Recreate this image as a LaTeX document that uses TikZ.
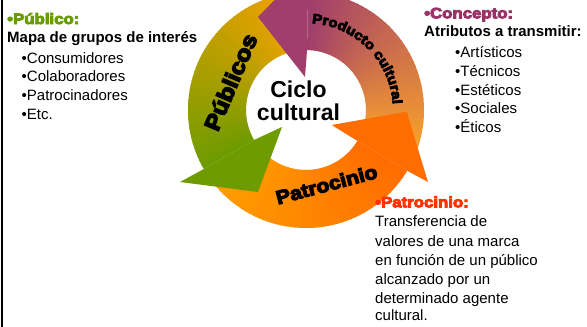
\documentclass[tikz,border=0pt]{standalone}
\usepackage{fontspec}
\setmainfont{Liberation Sans}
\newfontfamily\heavyfam[FakeBold=6,FakeStretch=1.12]{Liberation Sans Bold}
\usetikzlibrary{decorations.text}
\definecolor{grTail}{RGB}{242,162,0}
\definecolor{grHead}{RGB}{110,155,0}
\definecolor{puTail}{RGB}{250,162,42}
\definecolor{puHead}{RGB}{160,62,108}
\definecolor{orTail}{RGB}{255,158,0}
\definecolor{orHead}{RGB}{255,108,0}
\definecolor{txGreen}{RGB}{104,156,0}
\definecolor{txPurple}{RGB}{153,51,102}
\definecolor{txRed}{RGB}{255,51,0}
\tikzset{
  plainline/.style={anchor=base west, inner sep=0pt, font=\fontsize{15}{18}\selectfont},
  boldline/.style={anchor=base west, inner sep=0pt, font=\bfseries\fontsize{15}{18}\selectfont},
  headline/.style={anchor=base west, inner sep=0pt, font=\heavyfam\fontsize{15}{18}\selectfont},
  ringlabel/.style={inner sep=0pt, text=black},
  centerlabel/.style={anchor=base, inner sep=0pt, font=\bfseries\fontsize{23}{24}\selectfont}
}
\begin{document}
\begin{tikzpicture}[x=1pt,y=1pt]
\useasboundingbox (0,0) rectangle (587,-327);
\fill[white] (0,0) rectangle (587,-327);
\draw[line width=2.3pt] (2.2,0) -- (2.2,-327);

% ---- cycle arrows ----
\begin{scope}[shift={(306,-110)}]
\foreach \ta/\tb/\ca/\cb in {218/329/orTail/orHead,-23/89/puTail/puHead,97/210/grTail/grHead}{
  \foreach \i in {0,...,47}{
    \pgfmathsetmacro\angA{\ta+(\tb-\ta)*\i/48}
    \pgfmathsetmacro\angB{min(\ta+(\tb-\ta)*(\i+1.4)/48,\tb)}
    \pgfmathtruncatemacro\pct{100*\i/47}
    \fill[color=\cb!\pct!\ca] (\angA:118) arc[start angle=\angA,end angle=\angB,radius=118]
      -- (\angB:60) arc[start angle=\angB,end angle=\angA,radius=60] -- cycle;
  }
}
\fill[orHead] (-31:118) -- (122,-72) -- (100.7,-1.7) -- (25.7,-15) -- (-31:60) -- cycle;
\fill[puHead] (89:118) -- (89:145) -- (-48,93) -- (-1,33) -- (89:60) -- cycle;
\fill[grHead] (210:118) -- (-126,-72) -- (-48,-82) -- (-24,-17) -- (210:60) -- cycle;

\path[decorate, decoration={text along path,
  text={|\heavyfam\fontsize{13.5}{14}\selectfont|Producto cultural},
  text align=center}]
  (95:87) arc[start angle=95,end angle=-5,radius=87];
\end{scope}

\node[ringlabel, rotate=67, font=\heavyfam\fontsize{22}{22}\selectfont] (publicos) at (230.5,-82) {Públicos};
\node[ringlabel, rotate=15, font=\heavyfam\fontsize{19}{19}\selectfont] (patrocinio) at (326.5,-184.5) {Patrocinio};
\node[centerlabel] (ciclo) at (298.5,-97) {Ciclo};
\node[centerlabel] (cultural) at (298.5,-120) {cultural};

% ---- left block ----
\node[headline, text=txGreen] (hpub) at (7,-24) {•Público:};
\node[boldline] (mapa) at (7,-42.3) {Mapa de grupos de interés};
\node[plainline] (l1) at (21.5,-63.3) {•Consumidores};
\node[plainline] (l2) at (21.5,-81.7) {•Colaboradores};
\node[plainline] (l3) at (21.5,-100) {•Patrocinadores};
\node[plainline] (l4) at (21.5,-119) {•Etc.};

% ---- right block ----
\node[headline, text=txPurple] (hcon) at (424,-18.3) {•Concepto:};
\node[boldline] (atr) at (424,-36.7) {Atributos a transmitir:};
\node[plainline] (r1) at (455,-57.3) {•Artísticos};
\node[plainline] (r2) at (455,-76) {•Técnicos};
\node[plainline] (r3) at (455,-95) {•Estéticos};
\node[plainline] (r4) at (455,-113.3) {•Sociales};
\node[plainline] (r5) at (455,-132.7) {•Éticos};

% ---- bottom right block ----
\node[headline, text=txRed] (hpat) at (375,-207.3) {•Patrocinio:};
\node[plainline] (p1) at (375,-226.7) {Transferencia de};
\node[plainline] (p2) at (375,-246) {valores de una marca};
\node[plainline] (p3) at (375,-265) {en función de un público};
\node[plainline] (p4) at (375,-284) {alcanzado por un};
\node[plainline] (p5) at (375,-303.3) {determinado agente};
\node[plainline] (p6) at (375,-320.7) {cultural.};
\end{tikzpicture}
\end{document}
